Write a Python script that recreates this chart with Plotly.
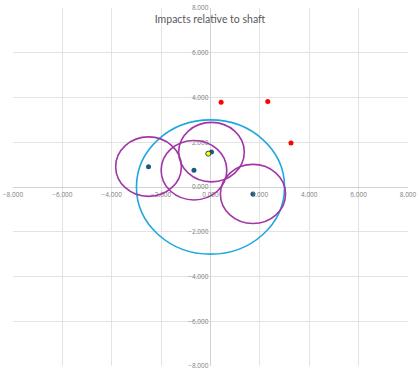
import plotly.graph_objects as go
import numpy as np

# Data
red_x = [0.43, 2.32, 3.26]
red_y = [3.79, 3.82, 1.97]
impact_x = [-2.51, -0.67, 0.04, 1.72]
impact_y = [0.91, 0.75, 1.56, -0.31]
impact_r = [1.33, 1.33, 1.33, 1.32]
mean_x = [-0.09]
mean_y = [1.49]
shaft_cx, shaft_cy, shaft_r = 0.0, 0.0, 3.0
tick_vals = [-8, -6, -4, -2, 0, 2, 4, 6, 8]

fig = go.Figure()

shapes = [dict(type="circle", xref="x", yref="y",
               x0=shaft_cx - shaft_r, x1=shaft_cx + shaft_r,
               y0=shaft_cy - shaft_r, y1=shaft_cy + shaft_r,
               line=dict(color="#1fa8e0", width=1.6), layer="above")]
for cx, cy, r in zip(impact_x, impact_y, impact_r):
    shapes.append(dict(type="circle", xref="x", yref="y",
                       x0=cx - r, x1=cx + r, y0=cy - r, y1=cy + r,
                       line=dict(color="#a236a6", width=1.6), layer="above"))

fig.add_trace(go.Scatter(x=red_x, y=red_y, mode="markers",
                         marker=dict(color="#ff0000", size=5), showlegend=False))
fig.add_trace(go.Scatter(x=impact_x, y=impact_y, mode="markers",
                         marker=dict(color="#1b5a7f", size=5), showlegend=False))
fig.add_trace(go.Scatter(x=mean_x, y=mean_y, mode="markers",
                         marker=dict(color="#ffff00", size=5,
                                     line=dict(color="#3a4a40", width=1)),
                         showlegend=False))

axis_common = dict(range=[-8, 8], tickvals=tick_vals, tickformat=".3f",
                   showgrid=True, gridcolor="#e3e3e3", gridwidth=1,
                   zeroline=True, zerolinecolor="#d3d3d3", zerolinewidth=1,
                   showline=False, ticks="",
                   tickfont=dict(family="Open Sans", size=6.5, color="#808080"),
                   ticklabeloverflow="allow",
                   anchor="free", position=0.5, fixedrange=True)

fig.update_layout(
    width=420, height=373,
    margin=dict(l=12, r=12, t=4, b=3),
    paper_bgcolor="white", plot_bgcolor="white",
    title=dict(text="Impacts relative to shaft", x=0.5, xanchor="center",
               y=1 - 19 / 373, yanchor="middle",
               font=dict(family="Lato", size=10.5, color="#595959")),
    xaxis=dict(**axis_common),
    yaxis=dict(**axis_common),
    shapes=shapes,
)
fig.update_xaxes(ticklabelstandoff=2)
fig.update_yaxes(ticklabelstandoff=2)

fig.write_html("out.html")
